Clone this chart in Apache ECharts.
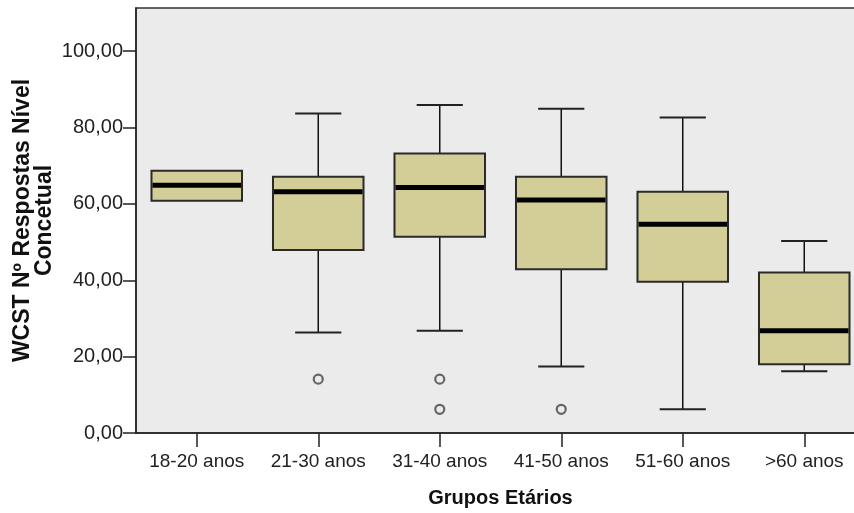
<!DOCTYPE html>
<html>
<head>
<meta charset="utf-8">
<script src="https://cdn.jsdelivr.net/npm/echarts@6/dist/echarts.min.js"></script>
<style>
html,body{margin:0;padding:0;background:#fff;overflow:hidden;}
#chart{width:854px;height:513px;}
</style>
</head>
<body>
<div id="chart"></div>
<script>
const categories = ['18-20 anos','21-30 anos','31-40 anos','41-50 anos','51-60 anos','>60 anos'];
const whiskerLow = [60.8, 26.3, 26.8, 17.4, 6.2, 16.2];
const quartile1 = [60.8, 47.9, 51.4, 42.9, 39.6, 18.0];
const medians = [64.9, 63.2, 64.3, 61.0, 54.7, 26.8];
const quartile3 = [68.7, 67.1, 73.2, 67.1, 63.2, 42.0];
const whiskerHigh = [68.7, 83.7, 85.9, 84.9, 82.6, 50.3];
const outliers = [[1, 14.1], [2, 14.1], [2, 6.2], [3, 6.2]];
const yTicks = [0, 20, 40, 60, 80, 100];
const yName = 'WCST Nº Respostas Nível\nConcetual';
const xName = 'Grupos Etários';

const boxData = categories.map((c, i) => [i, whiskerLow[i], quartile1[i], medians[i], quartile3[i], whiskerHigh[i]]);

const chart = echarts.init(document.getElementById('chart'), null, {renderer: 'canvas'});
const FONT = 'Liberation Sans, Arial, sans-serif';
chart.setOption({
  animation: false,
  backgroundColor: '#ffffff',
  grid: {
    left: 136, top: 8, width: 729, bottom: 80,
    outerBoundsMode: 'none',
    containLabel: false,
    show: true, backgroundColor: '#ebebeb', borderColor: '#333', borderWidth: 1.5
  },
  xAxis: {
    type: 'category',
    data: categories,
    boundaryGap: true,
    name: xName,
    nameLocation: 'middle',
    nameGap: 55,
    nameMoveOverlap: false,
    nameTextStyle: {fontFamily: FONT, fontWeight: 'bold', fontSize: 20, color: '#111'},
    axisLine: {show: true, lineStyle: {color: '#222', width: 1.5}},
    axisTick: {show: true, alignWithLabel: true, interval: 0, length: 14, lineStyle: {color: '#222', width: 1.5}},
    axisLabel: {fontFamily: FONT, fontSize: 19, color: '#222', margin: 19, interval: 0, hideOverlap: false},
    splitLine: {show: false}
  },
  yAxis: {
    type: 'value',
    min: 0,
    max: 111.3,
    interval: 20,
    name: yName,
    nameLocation: 'middle',
    nameRotate: 90,
    nameGap: 80,
    nameMoveOverlap: false,
    nameTextStyle: {fontFamily: FONT, fontWeight: 'bold', fontSize: 23, color: '#111', lineHeight: 22, align: 'center'},
    axisLine: {show: true, lineStyle: {color: '#222', width: 1.5}},
    axisTick: {show: true, length: 13, customValues: yTicks, lineStyle: {color: '#222', width: 1.5}},
    axisLabel: {
      fontFamily: FONT, fontSize: 20, color: '#222', margin: 13,
      customValues: yTicks,
      formatter: v => v.toFixed(2).replace('.', ',')
    },
    splitLine: {show: false}
  },
  series: [
    {
      type: 'custom',
      data: boxData,
      encode: {x: 0, y: [1, 2, 3, 4, 5]},
      renderItem: function (params, api) {
        const idx = api.value(0);
        const lo = api.coord([idx, api.value(1)]);
        const q1 = api.coord([idx, api.value(2)]);
        const md = api.coord([idx, api.value(3)]);
        const q3 = api.coord([idx, api.value(4)]);
        const hi = api.coord([idx, api.value(5)]);
        const band = api.size([1, 0])[0];
        const bw = band * 0.745;
        const cw = band * 0.38;
        const x = md[0];
        const lineStyle = {stroke: '#111', lineWidth: 1.5};
        const capStyle = {stroke: '#222', lineWidth: 2};
        const children = [];
        if (Math.abs(hi[1] - q3[1]) > 0.5) {
          children.push({type: 'line', shape: {x1: x, y1: hi[1], x2: x, y2: q3[1]}, style: lineStyle});
          children.push({type: 'line', shape: {x1: x - cw / 2, y1: hi[1], x2: x + cw / 2, y2: hi[1]}, style: capStyle});
        }
        if (Math.abs(lo[1] - q1[1]) > 0.5) {
          children.push({type: 'line', shape: {x1: x, y1: q1[1], x2: x, y2: lo[1]}, style: lineStyle});
          children.push({type: 'line', shape: {x1: x - cw / 2, y1: lo[1], x2: x + cw / 2, y2: lo[1]}, style: capStyle});
        }
        children.push({
          type: 'rect',
          shape: {x: x - bw / 2, y: q3[1], width: bw, height: q1[1] - q3[1]},
          style: {fill: '#d3ce98', stroke: '#2a2a2a', lineWidth: 2}
        });
        children.push({
          type: 'line',
          shape: {x1: x - bw / 2 + 1, y1: md[1], x2: x + bw / 2 - 1, y2: md[1]},
          style: {stroke: '#000', lineWidth: 5}
        });
        return {type: 'group', children: children};
      },
      z: 2
    },
    {
      type: 'scatter',
      data: outliers,
      symbol: 'circle',
      symbolSize: 9,
      itemStyle: {color: 'rgba(0,0,0,0)', borderColor: '#444', borderWidth: 2.2},
      z: 3
    }
  ]
});
</script>
</body>
</html>
